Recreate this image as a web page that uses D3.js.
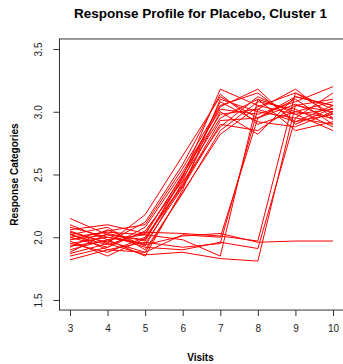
<!DOCTYPE html>
<html>
<head>
<meta charset="utf-8">
<script src="https://cdn.jsdelivr.net/npm/d3@7"></script>
<style>
  html, body { margin: 0; padding: 0; background: #fff; }
  svg { display: block; font-family: "Liberation Sans", Arial, Helvetica, sans-serif; }
</style>
</head>
<body>
<svg id="chart" width="343" height="364"></svg>
<script>
// Visits on the x axis
const visits = [3, 4, 5, 6, 7, 8, 9, 10];

// Tick labels
const xTicks = [3, 4, 5, 6, 7, 8, 9, 10];
const yTicks = [1.5, 2.0, 2.5, 3.0, 3.5];

// Jittered response category per subject, one array per visit sequence
const earlyResponders = [
  [2.15, 2.02, 1.98, 2.48, 3.18, 3.05, 2.98, 3.02],
  [2.05, 1.95, 2.18, 2.65, 3.12, 2.95, 3.10, 2.90],
  [1.98, 2.05, 2.10, 2.55, 3.05, 3.15, 2.92, 3.05],
  [1.90, 1.98, 2.02, 2.50, 2.98, 3.02, 3.18, 2.95],
  [2.08, 2.00, 1.95, 2.40, 2.90, 2.85, 3.05, 3.10],
  [1.85, 1.92, 2.05, 2.45, 3.08, 2.92, 2.88, 3.00],
  [2.02, 2.08, 1.90, 2.35, 2.85, 3.08, 3.02, 2.88],
  [1.95, 1.88, 2.00, 2.42, 3.00, 2.82, 3.12, 3.05],
  [2.10, 1.98, 1.85, 2.38, 3.10, 3.00, 2.95, 3.15],
  [1.88, 2.03, 1.97, 2.47, 2.95, 3.10, 2.85, 2.92],
  [2.00, 1.92, 2.08, 2.52, 3.02, 2.98, 3.08, 3.20],
  [1.92, 2.06, 1.93, 2.44, 2.88, 3.12, 2.98, 2.85],
  [2.04, 1.96, 2.12, 2.58, 3.14, 2.90, 3.00, 3.08],
  [1.82, 1.90, 1.88, 2.36, 2.82, 3.04, 3.15, 2.98],
  [2.06, 2.10, 2.03, 2.49, 3.04, 3.18, 2.90, 3.03],
  [1.97, 1.85, 1.99, 2.41, 2.93, 2.95, 3.06, 2.94]
];
const visit8Responders = [
  [2.00, 2.04, 2.02, 1.98, 1.85, 3.10, 3.00, 2.95],
  [1.93, 1.97, 1.88, 2.02, 2.00, 2.95, 3.12, 3.05],
  [2.03, 1.90, 1.96, 1.92, 1.95, 3.02, 2.92, 2.98]
];
const visit9Responders = [
  [1.87, 1.95, 1.86, 1.88, 1.83, 1.81, 3.05, 3.00],
  [1.98, 2.02, 1.92, 1.90, 1.96, 1.91, 2.95, 2.90],
  [2.02, 1.94, 2.04, 2.03, 2.01, 1.97, 3.15, 3.02]
];
const nonResponders = [
  [1.95, 2.00, 1.94, 2.01, 2.03, 1.96, 1.97, 1.97]
];

const profiles = [...earlyResponders, ...visit8Responders, ...visit9Responders, ...nonResponders];

const svg = d3.select("#chart");

const x = d3.scaleLinear().domain([3, 10]).range([70, 333]);
const y = d3.scaleLinear().domain([1.5, 3.5]).range([300, 49]);

// Plot region padded 4% past the data range on each side
const xPad = 0.04 * (10 - 3), yPad = 0.04 * (3.5 - 1.5);
const x0 = x(3 - xPad), x1 = x(10 + xPad);
const yTop = y(3.5 + yPad), yBot = y(1.5 - yPad);

const line = d3.line()
  .x((d, i) => x(visits[i]))
  .y(d => y(d));

svg.append("g")
  .selectAll("path")
  .data(profiles)
  .join("path")
  .attr("d", line)
  .attr("fill", "none")
  .attr("stroke", "#ff0000")
  .attr("stroke-width", 1);

// Frame
svg.append("rect")
  .attr("x", x0).attr("y", yTop)
  .attr("width", x1 - x0).attr("height", yBot - yTop)
  .attr("fill", "none").attr("stroke", "#333").attr("stroke-width", 1);

// X axis
const gx = svg.append("g")
  .attr("transform", `translate(0,${yBot})`)
  .call(d3.axisBottom(x).tickValues(xTicks).tickFormat(d3.format("d")).tickSize(6).tickPadding(9));
gx.select(".domain").remove();
gx.selectAll("line").attr("stroke", "#333");
gx.selectAll("text").attr("font-size", 10).attr("fill", "#222")
  .attr("font-family", "'Liberation Sans', Arial, sans-serif");

// Y axis, labels parallel to the axis
const gy = svg.append("g")
  .attr("transform", `translate(${x0},0)`)
  .call(d3.axisLeft(y).tickValues(yTicks).tickFormat(d3.format(".1f")).tickSize(6));
gy.select(".domain").remove();
gy.selectAll("line").attr("stroke", "#333");
gy.selectAll("text")
  .attr("transform", "rotate(-90)")
  .attr("x", 0).attr("y", -17).attr("dy", 0)
  .attr("text-anchor", "middle")
  .attr("font-size", 10).attr("fill", "#222")
  .attr("font-family", "'Liberation Sans', Arial, sans-serif");

// Title and axis titles
svg.append("text")
  .attr("x", (x0 + x1) / 2 - 1).attr("y", 18)
  .attr("text-anchor", "middle")
  .attr("font-size", 13.5).attr("font-weight", "bold").attr("fill", "#000")
  .text("Response Profile for Placebo, Cluster 1");

svg.append("text")
  .attr("x", (x0 + x1) / 2 - 1).attr("y", 361)
  .attr("text-anchor", "middle")
  .attr("font-size", 10).attr("font-weight", "bold").attr("fill", "#000")
  .text("Visits");

svg.append("text")
  .attr("transform", `translate(18,${(yTop + yBot) / 2}) rotate(-90)`)
  .attr("text-anchor", "middle")
  .attr("font-size", 10).attr("font-weight", "bold").attr("fill", "#000")
  .text("Response Categories");
</script>
</body>
</html>
